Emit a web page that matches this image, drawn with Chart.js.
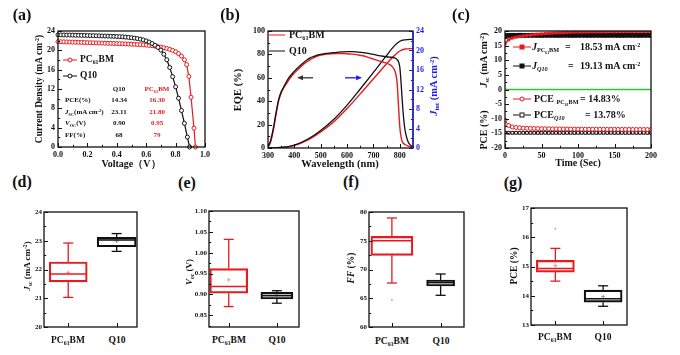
<!DOCTYPE html>
<html><head><meta charset="utf-8">
<script src="https://cdn.jsdelivr.net/npm/chart.js@4.4.0/dist/chart.umd.min.js"></script>
<style>
html,body{margin:0;padding:0;background:#fff;}
body{width:680px;height:355px;position:relative;overflow:hidden;font-family:'Liberation Serif','Times New Roman',serif;color:#111;}
#root{position:absolute;left:0;top:0;width:680px;height:355px;}
.t{position:absolute;font-weight:bold;white-space:nowrap;line-height:1;}
.c{transform:translate(-50%,-50%);}
.l{transform:translate(0,-50%);}
.r90{transform:translate(-50%,-50%) rotate(-90deg);}
.sb{font-size:62%;position:relative;top:0.35em;}
.sp{font-size:62%;position:relative;top:-0.5em;}
.red{color:rgb(232,26,32);}
.blue{color:rgb(30,30,230);}
i{font-style:italic;}
.ln{position:absolute;height:0;border-top:1.4px solid;transform:translateY(-50%);}
.mk{position:absolute;width:3px;height:3px;border:1px solid;background:#fff;transform:translate(-50%,-50%);}
.rd{border-radius:50%;}
.fl{width:5px;height:5px;border:none;}
</style>
</head><body>
<div id="root">
<!-- panel labels -->
<div class="t c" style="left:22px;top:15px;font-size:16px">(a)</div>
<div class="t c" style="left:230px;top:15px;font-size:16px">(b)</div>
<div class="t c" style="left:461px;top:15px;font-size:16px">(c)</div>
<div class="t c" style="left:22px;top:182px;font-size:16px">(d)</div>
<div class="t c" style="left:187px;top:183px;font-size:16px">(e)</div>
<div class="t c" style="left:351px;top:182px;font-size:16px">(f)</div>
<div class="t c" style="left:513px;top:183px;font-size:16px">(g)</div>

<!-- (a) -->
<div class="t r90" style="left:40px;top:89px;font-size:9.5px">Current Density (mA cm<span class="sp">-2</span>)</div>
<div class="t c" style="left:131px;top:164px;font-size:10px">Voltage（V）</div>
<div class="ln" style="left:63px;top:60px;width:14px;border-color:rgb(232,26,32)"></div>
<div class="mk rd" style="left:70px;top:60px;border-color:rgb(232,26,32)"></div>
<div class="t l" style="left:80px;top:60px;font-size:9.5px">PC<span class="sb">61</span>BM</div>
<div class="ln" style="left:63px;top:76px;width:14px;border-color:#111"></div>
<div class="mk rd" style="left:70px;top:76px;border-color:#111"></div>
<div class="t l" style="left:80px;top:76px;font-size:9.5px">Q10</div>
<div class="t c" style="left:119px;top:89px;font-size:7px">Q10</div>
<div class="t c red" style="left:157px;top:89px;font-size:7px">PC<span class="sb">61</span>BM</div>
<div class="t l" style="left:65px;top:100px;font-size:7px">PCE(%)</div>
<div class="t c" style="left:119px;top:100px;font-size:7px">14.34</div>
<div class="t c red" style="left:157px;top:100px;font-size:7px">16.30</div>
<div class="t l" style="left:65px;top:112px;font-size:7px"><i>J</i><span class="sb">SC</span>(mA cm<span class="sp">-2</span>)</div>
<div class="t c" style="left:119px;top:112px;font-size:7px">23.11</div>
<div class="t c red" style="left:157px;top:112px;font-size:7px">21.80</div>
<div class="t l" style="left:65px;top:123px;font-size:7px"><i>V</i><span class="sb">OC</span>(V)</div>
<div class="t c" style="left:119px;top:123px;font-size:7px">0.90</div>
<div class="t c red" style="left:157px;top:123px;font-size:7px">0.95</div>
<div class="t l" style="left:65px;top:135px;font-size:7px">FF(%)</div>
<div class="t c" style="left:119px;top:135px;font-size:7px">68</div>
<div class="t c red" style="left:157px;top:135px;font-size:7px">79</div>

<!-- (b) -->
<div class="t r90" style="left:238px;top:90px;font-size:10.5px">EQE (%)</div>
<div class="t r90 blue" style="left:434px;top:86px;font-size:10.5px"><i>J</i><span class="sb">int</span> (mA cm<span class="sp">-2</span>)</div>
<div class="t c" style="left:340px;top:164px;font-size:10.5px">Wavelength (nm)</div>
<div class="ln" style="left:269px;top:35px;width:16px;border-color:rgb(232,26,32)"></div>
<div class="t l" style="left:289px;top:35px;font-size:10px">PC<span class="sb">61</span>BM</div>
<div class="ln" style="left:269px;top:51px;width:16px;border-color:#111"></div>
<div class="t l" style="left:289px;top:51px;font-size:10px">Q10</div>

<!-- (c) -->
<div class="t r90" style="left:484px;top:60px;font-size:10px"><i>J</i><span class="sb">sc</span> (mA cm<span class="sp">-2</span>)</div>
<div class="t r90" style="left:484px;top:130px;font-size:10px">PCE (%)</div>
<div class="t c" style="left:578px;top:163px;font-size:10px">Time (Sec)</div>
<div class="ln" style="left:513px;top:47px;width:18px;border-color:rgb(232,26,32)"></div>
<div class="mk fl" style="left:522px;top:47px;background:rgb(232,26,32)"></div>
<div class="t l" style="left:532px;top:47px;font-size:10px"><i>J</i><span class="sb">PC<span class="sb">61</span>BM</span></div>
<div class="t l" style="left:565px;top:47px;font-size:10px">=</div>
<div class="t l" style="left:580px;top:47px;font-size:10px">18.53 mA cm<span class="sp">-2</span></div>
<div class="ln" style="left:513px;top:66px;width:18px;border-color:#111"></div>
<div class="mk fl" style="left:522px;top:66px;background:#111"></div>
<div class="t l" style="left:532px;top:66px;font-size:10px"><i>J</i><span class="sb"><i>Q10</i></span></div>
<div class="t l" style="left:568px;top:66px;font-size:10px">=</div>
<div class="t l" style="left:580px;top:66px;font-size:10px">19.13 mA cm<span class="sp">-2</span></div>
<div class="ln" style="left:513px;top:99px;width:18px;border-color:rgb(232,26,32)"></div>
<div class="mk rd" style="left:522px;top:99px;border-color:rgb(232,26,32)"></div>
<div class="t l" style="left:534px;top:99px;font-size:10px">PCE <span class="sb">PC<span class="sb">61</span>BM</span></div>
<div class="t l" style="left:580px;top:99px;font-size:10px">= 14.83%</div>
<div class="ln" style="left:513px;top:115px;width:18px;border-color:#111"></div>
<div class="mk" style="left:522px;top:115px;border-color:#111"></div>
<div class="t l" style="left:534px;top:115px;font-size:10px">PCE<span class="sb"><i>Q10</i></span></div>
<div class="t l" style="left:585px;top:115px;font-size:10px">= 13.78%</div>

<!-- (d)-(g) titles and categories -->
<div class="t r90" style="left:27px;top:266px;font-size:9px"><i>J</i><span class="sb">sc</span> (mA cm<span class="sp">-2</span>)</div>
<div class="t r90" style="left:189px;top:272px;font-size:9px"><i>V</i><span class="sb">oc</span> (V)</div>
<div class="t r90" style="left:352px;top:268px;font-size:9.5px"><i>FF</i> (%)</div>
<div class="t r90" style="left:515px;top:266px;font-size:9.5px">PCE (%)</div>
<div class="t c" style="left:68px;top:341px;font-size:9.5px">PC<span class="sb">61</span>BM</div>
<div class="t c" style="left:117px;top:341px;font-size:9.5px">Q10</div>
<div class="t c" style="left:229px;top:341px;font-size:9.5px">PC<span class="sb">61</span>BM</div>
<div class="t c" style="left:277px;top:341px;font-size:9.5px">Q10</div>
<div class="t c" style="left:392px;top:342px;font-size:9.5px">PC<span class="sb">61</span>BM</div>
<div class="t c" style="left:441px;top:342px;font-size:9.5px">Q10</div>
<div class="t c" style="left:555px;top:338px;font-size:9.5px">PC<span class="sb">61</span>BM</div>
<div class="t c" style="left:603px;top:338px;font-size:9.5px">Q10</div>
</div>
<script>
// ---------------- DATA ----------------
// (a) J-V curves
const jvVoltageQ10 = [0,0.02,0.04,0.06,0.08,0.10,0.12,0.14,0.16,0.18,0.20,0.22,0.24,0.26,0.28,0.30,0.32,0.34,0.36,0.38,0.40,0.42,0.44,0.46,0.48,0.50,0.52,0.54,0.56,0.58,0.60,0.62,0.64,0.66,0.68,0.70,0.72,0.74,0.76,0.78,0.80,0.82,0.84,0.86,0.88,0.895];
const jvCurrentQ10 = [23.20,23.19,23.18,23.17,23.16,23.15,23.13,23.12,23.10,23.09,
  23.07,23.05,23.04,23.02,23.00,22.98,22.96,22.94,22.92,22.89,
  22.86,22.83,22.79,22.74,22.68,22.61,22.53,22.43,22.31,22.15,
  21.96,21.72,21.42,21.05,20.60,20.05,19.20,18.05,16.45,14.55,
  12.45,10.10,7.55,4.90,2.05,0.0];
const jvVoltagePC = [0,0.02,0.04,0.06,0.08,0.10,0.12,0.14,0.16,0.18,0.20,0.22,0.24,0.26,0.28,0.30,0.32,0.34,0.36,0.38,0.40,0.42,0.44,0.46,0.48,0.50,0.52,0.54,0.56,0.58,0.60,0.62,0.64,0.66,0.68,0.70,0.72,0.74,0.76,0.78,0.80,0.82,0.84,0.86,0.875,0.89,0.905,0.925,0.935];
const jvCurrentPC = [21.80,21.78,21.76,21.74,21.72,21.70,21.68,21.66,21.64,21.62,
  21.60,21.58,21.56,21.54,21.52,21.50,21.48,21.46,21.44,21.42,
  21.40,21.38,21.35,21.33,21.30,21.27,21.24,21.21,21.17,21.13,
  21.08,21.02,20.95,20.87,20.78,20.67,20.54,20.39,20.21,19.98,
  19.70,19.32,18.80,18.05,17.05,14.60,10.30,3.90,0.0];
const jvTicksX = [0,0.2,0.4,0.6,0.8,1.0];
const jvTicksY = [0,4,8,12,16,20,24];

// (b) EQE and integrated Jsc
const eqeWlQ10 = [300,310,320,330,340,350,360,370,380,390,400,410,420,430,440,450,460,470,480,490,500,520,540,560,580,600,620,640,660,680,700,720,740,760,780,790,800,805,810,815,820,830,840,850];
const eqeQ10 = [1.0,6.5,16.5,29.5,41,48,52.3,56.6,60.3,63,65.7,68,70,72,74,75.7,77,78,78.8,79.5,80,80.8,81.3,81.8,82.1,82.3,82.3,82,81.6,80.9,80,79,78.3,77.7,77,75.5,69,55,38,24,15,6,2.5,1];
const eqeWlPC = [300,310,320,330,340,350,360,370,380,390,400,410,420,430,440,450,460,470,480,490,500,520,540,560,580,600,620,640,660,680,700,720,740,760,770,780,785,790,795,800,805,810,820,830,850];
const eqePC = [0.5,5,15,28,40,47,51.5,55,58.5,61.5,64,66.5,68.5,70.5,72.5,74,75.5,76.8,78,78.8,79.5,80.2,80.6,80.8,80.8,80.6,80.2,79.6,78.8,77.5,76,74.5,73.2,71.5,70,66.5,63,55,36,18,9,5,3,1.8,0.5];
const jintWl = [300,350,400,450,500,550,600,650,700,750,780,800,820,850];
const jintQ10 = [0,0.1,0.6,1.8,3.6,5.9,8.8,12.1,15.5,19.0,21.0,21.9,22.2,22.3];
const jintPC = [0,0.1,0.5,1.6,3.3,5.4,8.1,11.1,14.2,17.3,19.0,19.9,20.3,20.4];
const eqeTicksX = [300,400,500,600,700,800];
const eqeTicksY = [0,20,40,60,80,100];
const jintTicks = [0,4,8,12,16,20,24];
const eqeArrows = [{from:471,to:410,y:60,color:'#333'},{from:592,to:657,y:60,color:'rgb(30,30,230)'}];

// (c) stability vs time
const timeSec = [0,5,10,15,20,25,30,35,40,45,50,55,60,65,70,75,80,85,90,95,100,105,110,115,120,125,130,135,140,145,150,155,160,165,170,175,180,185,190,195,200];
const jscTimePC = [15.7,17.0,17.6,17.9,18.1,18.3,18.5,18.6,18.8,18.9,
  19.0,19.1,19.2,19.3,19.35,19.4,19.45,19.5,19.55,19.6,
  19.62,19.64,19.66,19.68,19.7,19.72,19.73,19.74,19.75,19.76,
  19.77,19.78,19.79,19.8,19.8,19.81,19.82,19.82,19.83,19.84,19.85];
const jscTimeQ10 = [18.45,18.5,18.52,18.5,18.53,18.51,18.5,18.52,18.53,18.51,
  18.5,18.52,18.53,18.52,18.5,18.51,18.53,18.52,18.5,18.51,
  18.52,18.53,18.51,18.5,18.52,18.53,18.52,18.5,18.51,18.52,
  18.53,18.51,18.5,18.52,18.53,18.52,18.51,18.5,18.52,18.53,18.52];
const pceTimePC = [-10.5,-12.3,-12.8,-13.0,-13.1,-13.2,-13.25,-13.3,-13.33,-13.36,
  -13.4,-13.42,-13.44,-13.46,-13.48,-13.5,-13.51,-13.52,-13.53,-13.54,
  -13.55,-13.56,-13.57,-13.58,-13.58,-13.59,-13.6,-13.6,-13.61,-13.62,
  -13.62,-13.63,-13.63,-13.64,-13.64,-13.65,-13.65,-13.66,-13.66,-13.67,-13.67];
const pceTimeQ10 = [-14.75,-14.8,-14.82,-14.8,-14.81,-14.8,-14.82,-14.81,-14.8,-14.82,
  -14.81,-14.8,-14.82,-14.81,-14.8,-14.81,-14.82,-14.8,-14.81,-14.82,
  -14.8,-14.81,-14.82,-14.8,-14.81,-14.82,-14.8,-14.81,-14.82,-14.8,
  -14.81,-14.82,-14.8,-14.81,-14.82,-14.8,-14.81,-14.82,-14.8,-14.81,-14.82];
const timeTicks = [0,50,100,150,200];
const stabTicksY = [-20,-15,-10,-5,0,5,10,15,20];

// (d)-(g) box statistics: [whisker low, Q1, median, Q3, whisker high]
const boxCategories = ['PC61BM','Q10'];
const jscBoxPC = [21.03,21.57,21.84,22.26,22.92];
const jscBoxQ10 = [22.63,22.79,23.03,23.12,23.25];
const jscMeans = [21.9,22.99];
const jscOutliers = [[],[]];
const vocBoxPC = [0.871,0.903,0.919,0.962,1.032];
const vocBoxQ10 = [0.879,0.889,0.897,0.905,0.909];
const vocMeans = [0.935,0.898];
const vocOutliers = [[],[]];
const ffBoxPC = [67.65,72.46,75.01,75.77,78.96];
const ffBoxQ10 = [65.51,67.13,67.71,68.17,69.22];
const ffMeans = [null,null];
const ffOutliers = [[64.75],[]];
const pceBoxPC = [14.50,14.81,14.93,15.21,15.62];
const pceBoxQ10 = [13.64,13.78,13.90,14.19,14.34];
const pceMeans = [15.03,13.97];
const pceOutliers = [[16.29],[]];
const jscBoxTicks = [20,21,22,23,24];
const vocBoxTicks = [0.85,0.90,0.95,1.00,1.05,1.10];
const ffBoxTicks = [60,65,70,75,80];
const pceBoxTicks = [13,14,15,16,17];

// ---------------- STYLE / HELPERS ----------------
const RED = 'rgb(232,26,32)', BLUE = 'rgb(30,30,230)', BLACK = '#111', GREEN = 'rgb(45,200,45)';
const SERIF = "'Liberation Serif','Times New Roman',serif";
const F8 = {family:SERIF, weight:'bold', size:8};
const F7 = {family:SERIF, weight:'bold', size:7};
function pts(xs, ys){ return xs.map((x,i)=>({x:x, y:ys[i]})); }
function setTicks(vals){ return s => { s.ticks = vals.map(v=>({value:v})); }; }
function axis(extra){
  return Object.assign({type:'linear', grid:{display:false, drawTicks:false}, border:{display:false}}, extra);
}

const framePlugin = {
  id:'frame',
  afterDatasetsDraw(chart, args, o){
    const ctx = chart.ctx, a = chart.chartArea;
    ctx.save();
    (o.axes||[]).forEach(ax => {
      const s = chart.scales[ax.id];
      ctx.strokeStyle = ax.color || BLACK; ctx.lineWidth = 1;
      const majors = s.ticks.map(t=>t.value);
      const draw = (v, len) => {
        if (v < s.min - 1e-9 || v > s.max + 1e-9) return;
        const p = Math.round(s.getPixelForValue(v)) + 0.5;
        ctx.beginPath();
        if (s.isHorizontal()) { ctx.moveTo(p, a.bottom); ctx.lineTo(p, a.bottom - len); }
        else if (s.position === 'right') { ctx.moveTo(a.right, p); ctx.lineTo(a.right - len, p); }
        else { ctx.moveTo(a.left, p); ctx.lineTo(a.left + len, p); }
        ctx.stroke();
      };
      majors.forEach(v => draw(v, 4));
      if (ax.minor) {
        const st = ax.minor, k0 = Math.ceil(s.min / st - 1e-6), k1 = Math.floor(s.max / st + 1e-6);
        for (let k = k0; k <= k1; k++) {
          const v = k * st;
          if (!majors.some(m => Math.abs(m - v) < st * 1e-3)) draw(v, 2.2);
        }
      }
    });
    ctx.lineWidth = 1.3; ctx.strokeStyle = BLACK;
    ctx.strokeRect(a.left, a.top, a.right - a.left, a.bottom - a.top);
    if (o.rightColor) { ctx.strokeStyle = o.rightColor; ctx.beginPath(); ctx.moveTo(a.right, a.top); ctx.lineTo(a.right, a.bottom); ctx.stroke(); }
    ctx.restore();
  }
};
const boxPlugin = {
  id:'boxes',
  afterDatasetsDraw(chart, args, o){
    const xs = chart.scales.x, ys = chart.scales.y, ctx = chart.ctx;
    (o.items||[]).forEach(b => {
      const [lo,q1,med,q3,hi] = b.stats;
      const cx = xs.getPixelForValue(b.pos), Y = v => ys.getPixelForValue(v);
      ctx.save(); ctx.strokeStyle = b.color; ctx.lineWidth = 1.3;
      const L = (x0,y0,x1,y1) => { ctx.beginPath(); ctx.moveTo(x0,y0); ctx.lineTo(x1,y1); ctx.stroke(); };
      L(cx, Y(lo), cx, Y(q1)); L(cx, Y(q3), cx, Y(hi));
      L(cx-b.cap, Y(lo), cx+b.cap, Y(lo)); L(cx-b.cap, Y(hi), cx+b.cap, Y(hi));
      ctx.lineWidth = 1.5; L(cx-b.half+1, Y(med), cx+b.half-1, Y(med));
      ctx.restore();
    });
  }
};
const arrowPlugin = {
  id:'arrows',
  afterDatasetsDraw(chart, args, o){
    const xs = chart.scales.x, ys = chart.scales.y, ctx = chart.ctx;
    (o.items||[]).forEach(a => {
      const x0 = xs.getPixelForValue(a.from), x1 = xs.getPixelForValue(a.to), py = ys.getPixelForValue(a.y);
      const d = Math.sign(x1 - x0);
      ctx.save(); ctx.strokeStyle = a.color; ctx.fillStyle = a.color; ctx.lineWidth = 1.3;
      ctx.beginPath(); ctx.moveTo(x0, py); ctx.lineTo(x1 - d*3, py); ctx.stroke();
      ctx.beginPath(); ctx.moveTo(x1, py); ctx.lineTo(x1 - d*6, py - 2.5); ctx.lineTo(x1 - d*6, py + 2.5); ctx.closePath(); ctx.fill();
      ctx.restore();
    });
  }
};

function mk(cr, plot, cfg, hasRight){
  const c = document.createElement('canvas');
  c.width = cr.w; c.height = cr.h;
  c.style.cssText = 'position:absolute;left:'+cr.x+'px;top:'+cr.y+'px;width:'+cr.w+'px;height:'+cr.h+'px;';
  document.getElementById('root').insertBefore(c, document.getElementById('root').firstChild);
  const o = cfg.options;
  o.responsive = false; o.animation = false; o.devicePixelRatio = 1; o.maintainAspectRatio = false;
  o.layout = {padding:{left:0, top: plot.t - cr.y, right: hasRight ? 0 : (cr.x + cr.w - plot.r), bottom:0}};
  for (const id in o.scales) {
    const s = o.scales[id];
    if (id.startsWith('x')) s.afterFit = sc => { sc.height = cr.y + cr.h - plot.b; };
    else if (s.position === 'right') s.afterFit = sc => { sc.width = cr.x + cr.w - plot.r; };
    else s.afterFit = sc => { sc.width = plot.l - cr.x; };
  }
  o.plugins = Object.assign({legend:{display:false}, tooltip:{enabled:false}}, o.plugins || {});
  return new Chart(c, cfg);
}

// ---------------- (a) J-V ----------------
function jvSet(xs, ys, color){
  return {data: pts(xs, ys), showLine:true, borderColor:color, borderWidth:1.2,
    pointRadius:2, pointBackgroundColor:'#fff', pointBorderColor:color, pointBorderWidth:1, clip:4};
}
mk({x:0,y:20,w:225,h:150}, {l:58,t:31,r:205,b:147}, {
  type:'scatter',
  data:{datasets:[jvSet(jvVoltageQ10, jvCurrentQ10, BLACK), jvSet(jvVoltagePC, jvCurrentPC, RED)]},
  options:{
    scales:{
      x: axis({min:0, max:1, afterBuildTicks:setTicks(jvTicksX), ticks:{font:F8, color:BLACK, padding:3, maxRotation:0, autoSkip:false, callback:v=>Number(v).toFixed(1)}}),
      y: axis({min:0, max:24, afterBuildTicks:setTicks(jvTicksY), ticks:{font:F8, color:BLACK, padding:3, autoSkip:false}})
    },
    plugins:{frame:{axes:[{id:'x', minor:0.1},{id:'y', minor:2}]}}
  },
  plugins:[framePlugin]
});

// ---------------- (b) EQE ----------------
function lineSet(xs, ys, color, axisId, w){
  return {data: pts(xs, ys), showLine:true, borderColor:color, borderWidth:w, pointRadius:0,
    cubicInterpolationMode:'monotone', yAxisID:axisId};
}
mk({x:240,y:20,w:200,h:150}, {l:268,t:31,r:413,b:148}, {
  type:'scatter',
  data:{datasets:[
    lineSet(eqeWlQ10, eqeQ10, BLACK, 'y', 1.3),
    lineSet(eqeWlPC, eqePC, RED, 'y', 1.4),
    lineSet(jintWl, jintQ10, BLACK, 'y1', 1.3),
    lineSet(jintWl, jintPC, RED, 'y1', 1.4)
  ]},
  options:{
    scales:{
      x: axis({min:300, max:850, afterBuildTicks:setTicks(eqeTicksX), ticks:{font:F8, color:BLACK, padding:3, maxRotation:0, autoSkip:false}}),
      y: axis({position:'left', min:0, max:100, afterBuildTicks:setTicks(eqeTicksY), ticks:{font:F8, color:BLACK, padding:3, autoSkip:false}}),
      y1: axis({position:'right', min:0, max:24, afterBuildTicks:setTicks(jintTicks), ticks:{font:F8, color:BLUE, padding:3, autoSkip:false}})
    },
    plugins:{
      frame:{axes:[{id:'x', minor:50},{id:'y', minor:10},{id:'y1', minor:2, color:BLUE}], rightColor:BLUE},
      arrows:{items:eqeArrows}
    }
  },
  plugins:[framePlugin, arrowPlugin]
}, true);

// ---------------- (c) stability ----------------
mk({x:470,y:20,w:205,h:150}, {l:505,t:31,r:651,b:148}, {
  type:'scatter',
  data:{datasets:[
    {data: pts([0,200],[0,0]), showLine:true, borderColor:GREEN, borderWidth:1.4, pointRadius:0},
    {data: pts(timeSec, jscTimePC), showLine:true, borderColor:RED, borderWidth:1.6, pointStyle:'rect', pointRadius:2.2, pointBackgroundColor:RED, pointBorderColor:RED, pointBorderWidth:0},
    {data: pts(timeSec, jscTimeQ10), showLine:true, borderColor:BLACK, borderWidth:1.5, pointStyle:'rect', pointRadius:3.4, pointBackgroundColor:BLACK, pointBorderColor:BLACK, pointBorderWidth:0},
    {data: pts(timeSec, pceTimePC), showLine:true, borderColor:RED, borderWidth:1, pointStyle:'circle', pointRadius:2, pointBackgroundColor:'#fff', pointBorderColor:RED, pointBorderWidth:1},
    {data: pts(timeSec, pceTimeQ10), showLine:true, borderColor:BLACK, borderWidth:1, pointStyle:'rect', pointRadius:2, pointBackgroundColor:'#fff', pointBorderColor:BLACK, pointBorderWidth:1}
  ]},
  options:{
    scales:{
      x: axis({min:0, max:200, afterBuildTicks:setTicks(timeTicks), ticks:{font:F8, color:BLACK, padding:3, maxRotation:0, autoSkip:false}}),
      y: axis({min:-20, max:20, afterBuildTicks:setTicks(stabTicksY), ticks:{font:F8, color:BLACK, padding:3, autoSkip:false}})
    },
    plugins:{frame:{axes:[{id:'x', minor:25},{id:'y', minor:2.5}]}}
  },
  plugins:[framePlugin]
});

// ---------------- (d)-(g) box plots ----------------
function boxChart(cr, plot, ticks, fmt, minor, yMin, yMax, pc, q10, means, outliers, g){
  const datasets = [
    {type:'bar', data:[{x:0, y:[pc[1], pc[3]]}], barThickness:g.half[0]*2, grouped:false,
      backgroundColor:'rgba(0,0,0,0)', borderColor:RED, borderWidth:1.5, borderSkipped:false},
    {type:'bar', data:[{x:1, y:[q10[1], q10[3]]}], barThickness:g.half[1]*2, grouped:false,
      backgroundColor:'rgba(0,0,0,0)', borderColor:BLACK, borderWidth:1.5, borderSkipped:false},
    {data: means.map((m,i)=> m == null ? null : {x:i, y:m}).filter(Boolean), pointStyle:'cross', pointRadius:2,
      pointBorderColor:['rgb(240,150,150)','rgb(150,150,150)'], pointBorderWidth:1},
    {data: [].concat(...outliers.map((arr,i)=> arr.map(v=>({x:i, y:v})))), pointStyle:'circle', pointRadius:1,
      pointBackgroundColor:'rgb(240,150,150)', pointBorderColor:'rgb(240,150,150)', pointBorderWidth:0}
  ];
  return mk(cr, plot, {
    type:'scatter',
    data:{datasets},
    options:{
      scales:{
        x: axis({min:g.min, max:g.max, offset:false, afterBuildTicks:setTicks([0,1]), ticks:{display:false}}),
        y: axis({min:yMin, max:yMax, afterBuildTicks:setTicks(ticks), ticks:{font:F7, color:BLACK, padding:2, autoSkip:false, callback:fmt}})
      },
      plugins:{
        frame:{axes:[{id:'x'},{id:'y', minor:minor}]},
        boxes:{items:[
          {pos:0, stats:pc, color:RED, half:g.half[0], cap:5},
          {pos:1, stats:q10, color:BLACK, half:g.half[1], cap:5}
        ]}
      }
    },
    plugins:[framePlugin, boxPlugin]
  });
}
boxChart({x:8,y:200,w:140,h:135}, {l:44,t:212,r:137,b:327}, jscBoxTicks, v=>String(v), 0.5, 20, 24,
  jscBoxPC, jscBoxQ10, jscMeans, jscOutliers, {min:-0.50, max:1.42, half:[19,19.5]});
boxChart({x:170,y:200,w:140,h:135}, {l:209,t:211,r:299,b:327}, vocBoxTicks, v=>Number(v).toFixed(2), 0.025, 0.822, 1.10,
  vocBoxPC, vocBoxQ10, vocMeans, vocOutliers, {min:-0.41, max:1.46, half:[19,16]});
boxChart({x:335,y:200,w:140,h:135}, {l:369,t:212,r:464,b:327}, ffBoxTicks, v=>String(v), 2.5, 60, 80,
  ffBoxPC, ffBoxQ10, ffMeans, ffOutliers, {min:-0.47, max:1.48, half:[21,14]});
boxChart({x:497,y:196,w:140,h:137}, {l:531,t:208,r:627,b:325}, pceBoxTicks, v=>String(v), 0.5, 13, 17,
  pceBoxPC, pceBoxQ10, pceMeans, pceOutliers, {min:-0.51, max:1.50, half:[19,19]});
</script>
</body></html>
